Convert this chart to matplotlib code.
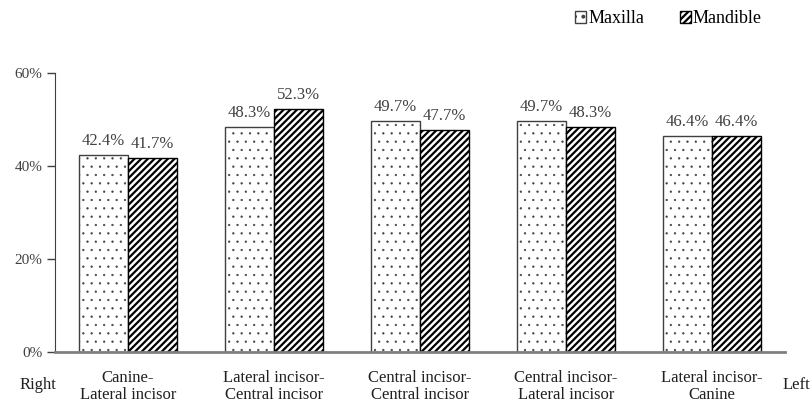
import matplotlib.pyplot as plt
import numpy as np

# Werte aus der Abbildung (Anteile in %)
kategorien = ['Canine-\nLateral incisor', 'Lateral incisor-\nCentral incisor',
              'Central incisor-\nCentral incisor', 'Central incisor-\nLateral incisor',
              'Lateral incisor-\nCanine']
maxilla = [42.4, 48.3, 49.7, 49.7, 46.4]
mandible = [41.7, 52.3, 47.7, 48.3, 46.4]
y_ticks = [0, 20, 40, 60]

plt.rcParams['font.family'] = ['Liberation Serif', 'DejaVu Serif']

fig = plt.figure(figsize=(8.12, 4.03), dpi=100)
ax = fig.add_axes([55 / 812, 1 - 352 / 403, 730 / 812, (352 - 73) / 403])

x = np.arange(len(kategorien))
w = 0.335
kante = '#404040'

# Punktmuster duenn, Streifen dick
plt.rcParams['hatch.linewidth'] = 0.4
b1 = ax.bar(x - w / 2, maxilla, w, color='white', edgecolor=kante, hatch='..',
            linewidth=1.0, label='Maxilla')
plt.rcParams['hatch.linewidth'] = 1.6
b2 = ax.bar(x + w / 2, mandible, w, color='white', edgecolor='black', hatch='/////',
            linewidth=1.0, label='Mandible')

for xi, v in zip(x - w / 2, maxilla):
    ax.text(xi, v + 3.0, f'{v:.1f}%', ha='center', va='center', fontsize=12, color='#404040')
for xi, v in zip(x + w / 2, mandible):
    ax.text(xi, v + 3.0, f'{v:.1f}%', ha='center', va='center', fontsize=12, color='#404040')

ax.set_xlim(-0.5, len(kategorien) - 0.5)
ax.set_ylim(0, 60)
ax.set_yticks(y_ticks)
ax.set_yticklabels([f'{t}%' for t in y_ticks], fontsize=11, color='#404040')
ax.set_xticks(x)
ax.set_xticklabels(kategorien, fontsize=12, color='#202020', linespacing=1.05)
ax.tick_params(axis='x', length=0, pad=13)
ax.tick_params(axis='y', length=6, width=1, color='#404040', pad=3)

for s in ['top', 'right']:
    ax.spines[s].set_visible(False)
ax.spines['left'].set_color('#404040')
ax.spines['bottom'].set_color('#808080')
ax.spines['bottom'].set_linewidth(2)

fig.text(20 / 812, 1 - 385 / 403, 'Right', fontsize=12, va='center', ha='left', color='#202020')
fig.text(810 / 812, 1 - 385 / 403, 'Left', fontsize=12, va='center', ha='right', color='#202020')

ax.legend(loc='upper right', bbox_to_anchor=(778 / 812, 1.015), bbox_transform=fig.transFigure,
          ncol=2, frameon=False, fontsize=13, handlelength=0.6, handleheight=0.6,
          handletextpad=0.1, columnspacing=2.0)

fig.savefig('out.png', dpi=100)
